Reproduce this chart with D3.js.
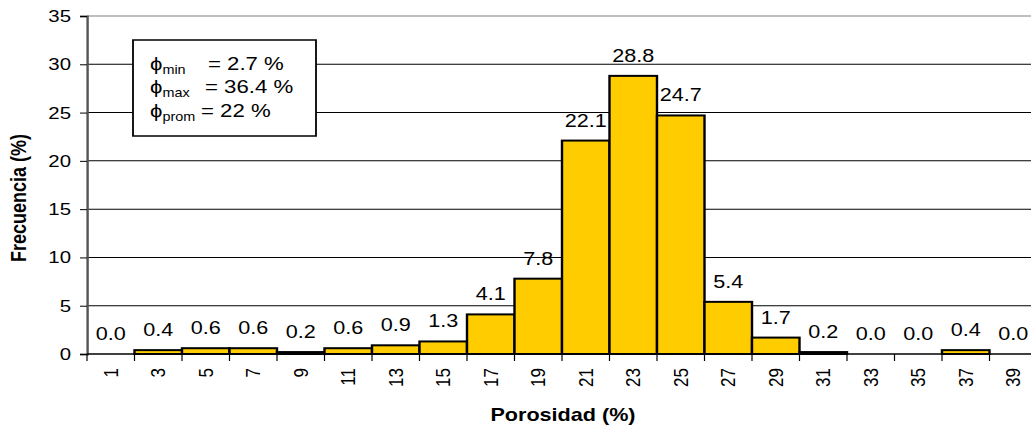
<!DOCTYPE html>
<html><head><meta charset="utf-8">
<script src="https://cdn.jsdelivr.net/npm/d3@7"></script>
<style>
body{margin:0;background:#fff}
svg{display:block}
text{font-family:Arial,"Liberation Sans",sans-serif;fill:#000}
</style>
</head><body><div id="chart"></div>
<script>
const categories = [1,3,5,7,9,11,13,15,17,19,21,23,25,27,29,31,33,35,37,39];
const values = [0.0,0.4,0.6,0.6,0.2,0.6,0.9,1.3,4.1,7.8,22.1,28.8,24.7,5.4,1.7,0.2,0.0,0.0,0.4,0.0];
const yTicks = [0,5,10,15,20,25,30,35];
const xTitle = "Porosidad (%)";
const yTitle = "Frecuencia (%)";
const statSubs = ["min","max","prom"];
const statTexts = ["= 2.7 %","= 36.4 %","= 22 %"];

const W = 1031, H = 431, S = 1.2;
const svg = d3.select("#chart").append("svg")
  .attr("width", W).attr("height", H)
  .attr("viewBox", `0 0 ${W/S} ${H}`)
  .attr("preserveAspectRatio", "none");

const x0 = 87/S, x1 = 1037/S;
const x = d3.scaleBand().domain(categories).range([x0, x1]).padding(0);
const y = d3.scaleLinear().domain([0, 35]).range([354, 16]);

// gridlines
svg.append("g").selectAll("line").data(yTicks.filter(t => t > 0)).join("line")
  .attr("x1", x0).attr("x2", x1)
  .attr("y1", d => y(d)).attr("y2", d => y(d))
  .attr("stroke", d => d === 35 ? "#808080" : "#000")
  .attr("stroke-width", 1);

// bars
svg.append("g").selectAll("rect").data(categories).join("rect")
  .attr("x", d => x(d)).attr("width", x.bandwidth())
  .attr("y", (d,i) => y(values[i]))
  .attr("height", (d,i) => y(0) - y(values[i]))
  .attr("fill", "#FFCC00")
  .attr("stroke", "#000").attr("stroke-width", 2)
  .style("display", (d,i) => values[i] > 0 ? null : "none");

// y axis
const yAxis = svg.append("g").attr("transform", `translate(${x0},0)`)
  .call(d3.axisLeft(y).tickValues(yTicks).tickSize(7/S).tickPadding(9/S).tickFormat(d3.format("d")));
yAxis.select(".domain").attr("stroke", "#555").attr("stroke-width", 2);
yAxis.selectAll(".tick line").attr("stroke", "#000");
yAxis.selectAll(".tick text").style("font-size", "17px").attr("fill", "#000");

// x axis baseline + boundary ticks
svg.append("line").attr("x1", x0).attr("x2", x1).attr("y1", y(0)).attr("y2", y(0))
  .attr("stroke", "#000").attr("stroke-width", 1.5);
svg.append("g").selectAll("line").data(categories).join("line")
  .attr("x1", d => x(d)).attr("x2", d => x(d))
  .attr("y1", y(0)).attr("y2", y(0) + 7)
  .attr("stroke", "#000").attr("stroke-width", 1);

// x tick labels
const xAxis = svg.append("g").attr("transform", `translate(0,${y(0)})`)
  .call(d3.axisBottom(x).tickSize(0));
xAxis.select(".domain").remove();
xAxis.selectAll(".tick text")
  .attr("transform", "rotate(-90)")
  .attr("x", -14).attr("y", 0).attr("dy", "0.35em")
  .style("text-anchor", "end").style("font-size", "17px").attr("fill", "#000");

// data labels
svg.append("g").selectAll("text").data(categories).join("text")
  .attr("x", d => x(d) + x.bandwidth()/2)
  .attr("y", (d,i) => y(values[i]) - 14)
  .attr("text-anchor", "middle")
  .style("font-size", "18px")
  .text((d,i) => values[i].toFixed(1));

// axis titles
svg.append("text").attr("x", 563/S).attr("y", 421).attr("text-anchor", "middle")
  .style("font-size", "18px").style("font-weight", "bold").text(xTitle);
svg.append("text").attr("transform", `translate(${26/S},198) rotate(-90)`)
  .attr("text-anchor", "middle")
  .style("font-size", "18px").style("font-weight", "bold").text(yTitle);

// stats box
svg.append("rect").attr("x", 133/S).attr("y", 40).attr("width", (316-133)/S).attr("height", 96)
  .attr("fill", "#fff").attr("stroke", "#000").attr("stroke-width", 1.5);
const baselines = [70, 93.5, 117];
const eqX = [208, 205, 201];
statSubs.forEach((s, i) => {
  const t = svg.append("text").attr("x", 150/S).attr("y", baselines[i])
    .style("font-size", "18.5px");
  t.append("tspan").text("\u03D5");
  t.append("tspan").attr("dy", 4).style("font-size", "12px").text(s);
  t.append("tspan").attr("x", eqX[i]/S).attr("dy", -4).text(statTexts[i]);
});
</script>
</body></html>
